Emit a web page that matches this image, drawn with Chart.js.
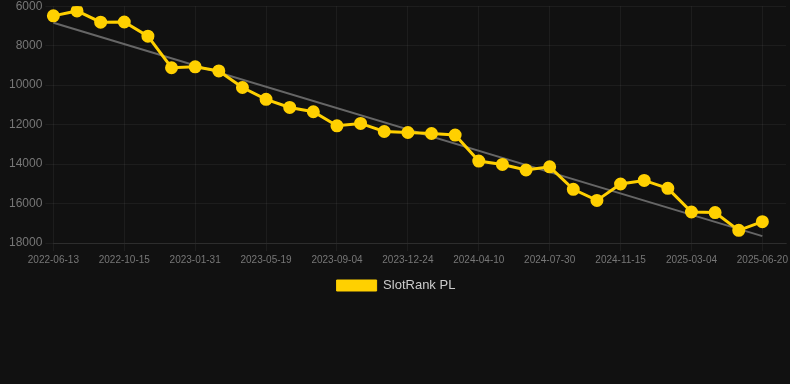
<!DOCTYPE html>
<html>
<head>
<meta charset="utf-8">
<script src="https://cdn.jsdelivr.net/npm/chart.js@4"></script>
<style>
  html, body { margin: 0; padding: 0; background: #111111; overflow: hidden; }
  #wrap { width: 790px; height: 306px; margin-top: -4px; }
</style>
</head>
<body>
<div id="wrap"><canvas id="myChartRank"></canvas></div>
<script>
// dates of each point (last one has no value, keeps space on the right)
const labels = [
  '2022-06-13', '2022-07-24', '2022-09-03', '2022-10-15', '2022-11-21', '2022-12-27',
  '2023-01-31', '2023-03-08', '2023-04-13', '2023-05-19', '2023-06-24', '2023-07-30',
  '2023-09-04', '2023-10-11', '2023-11-17', '2023-12-24', '2024-01-29', '2024-03-05',
  '2024-04-10', '2024-05-17', '2024-06-23', '2024-07-30', '2024-09-04', '2024-10-10',
  '2024-11-15', '2024-12-21', '2025-01-27', '2025-03-04', '2025-04-09', '2025-05-15',
  '2025-06-20', '2025-07-26'
];

const rankValues = [
  6490, 6240, 6810, 6800, 7520, 9120, 9070, 9280, 10120, 10720,
  11130, 11350, 12060, 11940, 12350, 12400, 12450, 12530, 13850, 14020,
  14300, 14140, 15280, 15840, 15010, 14830, 15230, 16430, 16460, 17360,
  16920, null
];

// trend line ends
const trendStart = 6840;
const trendEnd = 17650;

const yTicks = [6000, 8000, 10000, 12000, 14000, 16000, 18000];

const gridColor = 'rgba(255,255,255,0.05)';
const fontFamily = 'Arial, "Liberation Sans", sans-serif';

const chartRank = document.getElementById('myChartRank');

new Chart(chartRank, {
  type: 'line',
  data: {
    labels: labels,
    datasets: [{
      label: 'SlotRank PL',
      data: rankValues,
      borderColor: '#FFD000',
      backgroundColor: '#FFD000',
      borderWidth: 3,
      pointRadius: 5,
      pointHoverRadius: 6,
      tension: 0
    }, {
      label: 'trend',
      data: [
        { x: labels[0], y: trendStart },
        { x: labels[30], y: trendEnd }
      ],
      borderColor: '#666666',
      borderWidth: 2,
      pointRadius: 0,
      fill: false
    }]
  },
  options: {
    responsive: true,
    maintainAspectRatio: false,
    animation: false,
    layout: {
      autoPadding: false,
      padding: { left: 6, right: 4, top: 0, bottom: 0 }
    },
    scales: {
      x: {
        grid: {
          color: ctx => (ctx.index % 3 === 0 ? gridColor : 'transparent')
        },
        border: { color: 'rgba(255,255,255,0.08)' },
        ticks: {
          autoSkip: false,
          maxRotation: 0,
          color: '#777',
          font: { family: fontFamily, size: 10 },
          callback: function (val, index) {
            return index % 3 === 0 ? labels[index] : '';
          }
        }
      },
      y: {
        reverse: true,
        min: yTicks[0],
        max: yTicks[yTicks.length - 1],
        grid: { color: gridColor },
        border: { display: false },
        afterBuildTicks: function (axis) {
          axis.ticks = yTicks.map(v => ({ value: v }));
        },
        ticks: {
          color: '#777',
          font: { family: fontFamily, size: 12 },
          callback: v => String(v)
        }
      }
    },
    plugins: {
      legend: {
        position: 'bottom',
        labels: {
          color: '#ccc',
          boxWidth: 40,
          boxHeight: 11,
          font: { family: fontFamily, size: 13 },
          generateLabels: function (chart) {
            return Chart.defaults.plugins.legend.labels.generateLabels(chart)
              .filter(item => item.text !== 'trend')
              .map(item => Object.assign(item, { lineWidth: 1 }));
          }
        }
      },
      tooltip: { enabled: false }
    }
  }
});
</script>
</body>
</html>
